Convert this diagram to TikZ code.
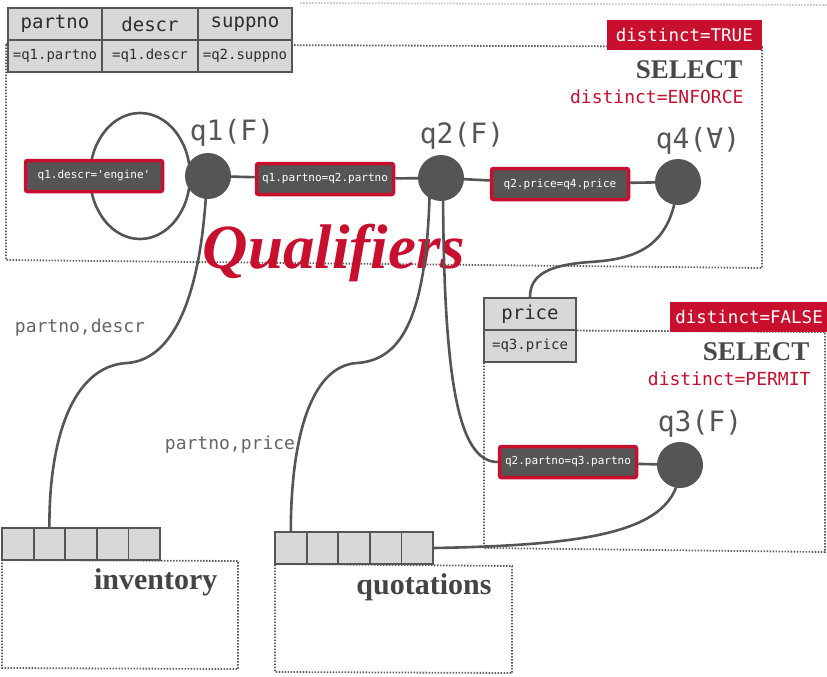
\documentclass[tikz,border=0pt]{standalone}
\usepackage{fontspec}
\setmainfont{Liberation Serif}
\setmonofont{DejaVu Sans Mono}
\usetikzlibrary{backgrounds}
\definecolor{ink}{HTML}{555555}
\definecolor{crim}{HTML}{C8102E}
\definecolor{cellgray}{HTML}{D8D8D8}
\definecolor{dotgray}{HTML}{5E5E5E}
\definecolor{celltext}{HTML}{2E2E2E}
\newcommand{\mono}[1]{\ttfamily\fontsize{#1}{#1}\selectfont}
\begin{document}
\begin{tikzpicture}[x=1pt, y=-1pt,
  var/.style={circle, fill=ink, minimum size=46pt, inner sep=0pt},
  varlbl/.style={text=ink, font=\mono{28}},
  pred/.style={draw=crim, line width=3.5pt, fill=ink, text=white, rounded corners=2pt, minimum width=137pt, minimum height=31pt, inner sep=2pt, font=\mono{11}},
  cell/.style={draw=ink, line width=1.8pt, fill=cellgray, text=celltext, inner sep=0pt, minimum height=32pt},
  flag/.style={fill=crim, text=white, minimum height=30pt, inner xsep=9pt, font=\mono{17.5}},
  sel/.style={text=ink!85!black, font=\bfseries\fontsize{27}{27}\selectfont},
  mode/.style={text=crim, font=\mono{18}},
  attrs/.style={text=ink!90, font=\mono{18}},
  tbl/.style={text=ink!80!black, font=\bfseries\fontsize{30}{30}\selectfont},
  frame/.style={draw=dotgray, line width=1.8pt, dash pattern=on 1.5pt off 1.5pt},
  wire/.style={draw=ink, line width=2.6pt}]
  \useasboundingbox (0,0) rectangle (827,677);

  % projection tables
  \foreach \n/\x/\w/\h/\v in {partno/55/94/partno/=q1.partno, descr/150/96/descr/=q1.descr, suppno/245/94/suppno/=q2.suppno} {
    \node[cell, minimum width=\w, font=\mono{19}] (\n-h) at (\x,24) {\h};
    \node[cell, minimum width=\w, font=\mono{14}] (\n-v) at (\x,56) {\v};
  }
  \node[cell, minimum width=92, font=\mono{19}] (price-h) at (530,314) {price};
  \node[cell, minimum width=92, font=\mono{14}] (price-v) at (530,346) {=q3.price};

  % base tables
  \foreach \i in {1,...,5} {
    \node[cell, minimum width=31.6] (inv\i) at ({2+31.6*(\i-0.5)},544) {};
    \node[cell, minimum width=31.6] (qt\i) at ({275+31.6*(\i-0.5)},548) {};
  }
  \node[tbl, anchor=east] (inventory) at (221,582) {inventory};
  \node[tbl, anchor=east] (quotations) at (495,587) {quotations};

  % SELECT boxes
  \node[flag, anchor=south east] (true) at (762,50) {distinct=TRUE};
  \node[sel, anchor=east] (sel1) at (746,70) {SELECT};
  \node[mode, anchor=east] (enforce) at (747,97) {distinct=ENFORCE};
  \node[flag, anchor=south east, inner xsep=5pt] (false) at (828,332) {distinct=FALSE};
  \node[sel, anchor=east] (sel2) at (813,352) {SELECT};
  \node[mode, anchor=east] (permit) at (814,379) {distinct=PERMIT};

  % quantifiers and predicates
  \node[var] (q1) at (208,176) {};
  \node[var] (q2) at (441,178) {};
  \node[var] (q4) at (678,182) {};
  \node[var] (q3) at (680,465) {};
  \node[varlbl] (q1-l) at (232,133) {q1(F)};
  \node[varlbl] (q2-l) at (462,136) {q2(F)};
  \node[varlbl] (q4-l) at (698,141) {q4(∀)};
  \node[varlbl] (q3-l) at (700,424) {q3(F)};
  \node[pred] (engine) at (94,176) {q1.descr='engine'};
  \node[pred] (p12) at (325,179) {q1.partno=q2.partno};
  \node[pred] (p24) at (560,184) {q2.price=q4.price};
  \node[pred] (p23) at (568,462) {q2.partno=q3.partno};

  \node[attrs] (a1) at (80,328) {partno,descr};
  \node[attrs] (a2) at (230,445) {partno,price};

  \begin{scope}[on background layer]
    \fill[white] (0,0) rectangle (827,677);
    \draw[frame] (6,44) -- (762,47) -- (762,268) -- (6,260) -- cycle;
    \draw[frame] (484,330) -- (825,332) -- (825,552) -- (484,548) -- cycle;
    \draw[frame] (2,560) -- (238,561) -- (238,669) -- (2,668) -- cycle;
    \draw[frame] (275,564) -- (512,566) -- (512,673) -- (275,672) -- cycle;
    \draw[frame, draw=dotgray!35] (300,3) -- (827,5);
    \node[text=crim, anchor=base, font=\bfseries\itshape\fontsize{63}{63}\selectfont] (title) at (334,268) {Qualifiers};

    \draw[wire] (q1) -- (p12) -- (q2) -- (p24) -- (q4);
    \draw[wire] (p23) -- (q3);
    \draw[wire] ([xshift=-68pt]q1.center) ellipse [x radius=50, y radius=63];
    \draw[wire] ([xshift=-1pt]q1.center) .. controls (202,300) and (172,360) .. (127,363) .. controls (72,366) and (49,440) .. (inv2.north);
    \draw[wire] ([xshift=-11pt]q2.center) .. controls (428,310) and (405,360) .. (357,363) .. controls (310,366) and (291,440) .. (qt1.north);
    \draw[wire] ([xshift=2pt]q2.center) .. controls (443,380) and (458,462) .. (p23.west);
    \draw[wire] (q4.center) .. controls (672,245) and (640,259) .. (590,262) .. controls (548,265) and (530,275) .. (price-h.north);
    \draw[wire] (q3.center) .. controls (680,530) and (600,545) .. (qt5.east);
  \end{scope}
\end{tikzpicture}
\end{document}
